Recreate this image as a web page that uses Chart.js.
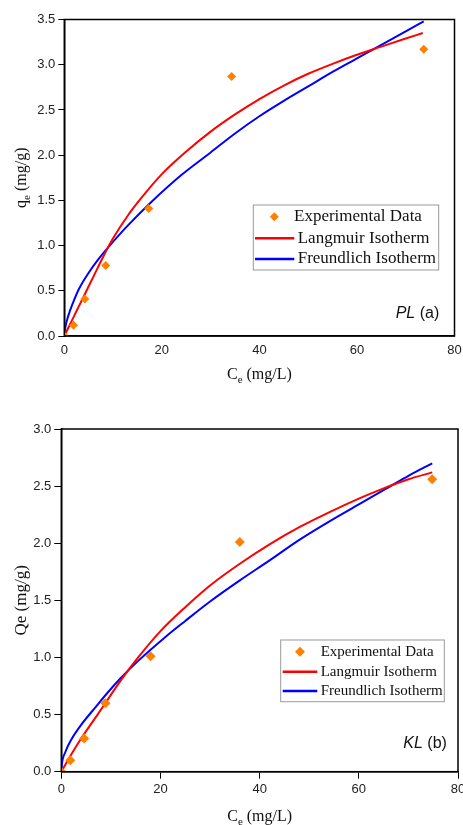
<!DOCTYPE html>
<html><head><meta charset="utf-8">
<script src="https://cdn.jsdelivr.net/npm/chart.js@4.4.1/dist/chart.umd.min.js"></script>
<style>
html,body{margin:0;padding:0;background:#fff;}
body{width:463px;height:825px;position:relative;overflow:hidden;}
canvas{position:absolute;left:0;}
#c1{top:0;} #c2{top:400px;}
</style></head><body>
<canvas id="c1" width="463" height="400"></canvas>
<canvas id="c2" width="463" height="425"></canvas>
<script>
// ---------- Data: panel (a) PL ----------
const ceExpA  = [0, 1.9, 4.2, 8.5, 17.3, 34.3, 73.7];
const qeExpA  = [0, 0.12, 0.41, 0.78, 1.41, 2.87, 3.17];
const ceLangA = [0, 1, 2, 3, 4, 6, 8, 10, 13, 16, 20, 25, 30, 35, 40, 45, 50, 55, 60, 65, 70, 73.5];
const qLangA  = [0, 0.11, 0.22, 0.33, 0.44, 0.66, 0.88, 1.08, 1.33, 1.54, 1.79, 2.04, 2.26, 2.45, 2.62, 2.77, 2.90, 3.01, 3.11, 3.20, 3.29, 3.35];
const ceFreuA = [0, 0.2, 0.8, 1.8, 3, 5, 7, 9, 13, 18, 24, 30, 35, 40, 45, 50, 55, 60, 65, 70, 73.7];
const qFreuA  = [0, 0.09, 0.22, 0.37, 0.52, 0.70, 0.85, 0.98, 1.22, 1.49, 1.78, 2.03, 2.24, 2.43, 2.60, 2.76, 2.92, 3.07, 3.22, 3.37, 3.48];
const xTicksA = [0, 20, 40, 60, 80];
const yTicksA = [0, 0.5, 1.0, 1.5, 2.0, 2.5, 3.0, 3.5];

// ---------- Data: panel (b) KL ----------
const ceExpB  = [0, 1.8, 4.6, 8.9, 18.0, 36.0, 74.8];
const qeExpB  = [0, 0.10, 0.29, 0.60, 1.01, 2.01, 2.56];
const ceLangB = [0, 2, 4, 7, 9.5, 12, 15.5, 20, 25, 30, 36, 42, 48, 54, 60, 65, 70, 74.8];
const qLangB  = [0, 0.15, 0.29, 0.48, 0.64, 0.80, 1.00, 1.23, 1.44, 1.63, 1.82, 1.99, 2.14, 2.27, 2.39, 2.48, 2.56, 2.62];
const ceFreuB = [0, 0.1, 0.8, 2, 4, 7, 9.5, 12, 15.5, 21, 25, 30, 36, 42, 48, 54, 60, 66, 70, 74.8];
const qFreuB  = [0, 0.06, 0.17, 0.28, 0.41, 0.57, 0.70, 0.82, 0.97, 1.18, 1.32, 1.49, 1.675, 1.85, 2.03, 2.19, 2.34, 2.49, 2.59, 2.70];
const xTicksB = [0, 20, 40, 60, 80];
const yTicksB = [0, 0.5, 1.0, 1.5, 2.0, 2.5, 3.0];

const seriesNames = ['Experimental Data', 'Langmuir Isotherm', 'Freundlich Isotherm'];

const SANS = '"Liberation Sans", Arial, sans-serif';
const SERIF = '"Liberation Serif", "Times New Roman", serif';
const ORANGE = '#FF8000', RED = '#FF0000', BLUE = '#0000FF';

function pts(xs, ys) { return xs.map((x, i) => ({x: x, y: ys[i]})); }

function drawRich(ctx, parts, x, y, align) {
  let w = 0;
  parts.forEach(p => { ctx.font = p.font; w += ctx.measureText(p.t).width; });
  let cx = align === 'center' ? x - w / 2 : x;
  parts.forEach(p => {
    ctx.font = p.font;
    ctx.fillText(p.t, cx, y + (p.dy || 0));
    cx += ctx.measureText(p.t).width;
  });
}

const decorPlugin = {
  id: 'decor',
  afterDraw(chart) {
    const o = chart.options.plugins.decor;
    const ctx = chart.ctx;
    const a = chart.chartArea;
    ctx.save();
    ctx.strokeStyle = '#000';
    ctx.lineWidth = 1.5;
    ctx.strokeRect(a.left, a.top, a.right - a.left, a.bottom - a.top);
    ctx.fillStyle = '#111';
    ctx.textBaseline = 'alphabetic';
    drawRich(ctx, o.xTitle, (a.left + a.right) / 2, o.xTitleY, 'center');
    ctx.save();
    ctx.translate(o.yTitleX, (a.top + a.bottom) / 2);
    ctx.rotate(-Math.PI / 2);
    drawRich(ctx, o.yTitle, 0, 0, 'center');
    ctx.restore();
    ctx.textBaseline = 'middle';
    drawRich(ctx, o.panel, o.panelX, o.panelY, 'left');
    const L = o.legend;
    ctx.strokeStyle = '#999';
    ctx.lineWidth = 1;
    ctx.strokeRect(L.x0, L.y0, L.x1 - L.x0, L.y1 - L.y0);
    ctx.font = L.fontSize + 'px ' + SERIF;
    ctx.textBaseline = 'middle';
    ctx.fillStyle = '#111';
    const ds = chart.data.datasets;
    ds.forEach((d, i) => {
      const y = L.rows[i];
      if (i === 0) {
        ctx.fillStyle = d.backgroundColor;
        const r = L.mr;
        ctx.beginPath();
        ctx.moveTo(L.mx - r, y); ctx.lineTo(L.mx, y - r); ctx.lineTo(L.mx + r, y); ctx.lineTo(L.mx, y + r);
        ctx.closePath(); ctx.fill();
        ctx.fillStyle = '#111';
        ctx.fillText(d.label, L.tx0, y);
      } else {
        ctx.strokeStyle = d.borderColor;
        ctx.lineWidth = 2.5;
        ctx.beginPath(); ctx.moveTo(L.lx0, y); ctx.lineTo(L.lx1, y); ctx.stroke();
        ctx.fillStyle = '#111';
        ctx.fillText(d.label, L.tx, y);
      }
    });
    ctx.restore();
  }
};

function makeChart(id, c) {
  return new Chart(document.getElementById(id), {
    type: 'scatter',
    data: {
      datasets: [
        { label: seriesNames[0], data: pts(c.ceExp, c.qExp), pointStyle: 'rectRot', pointRadius: c.pr,
          backgroundColor: ORANGE, borderColor: ORANGE, borderWidth: 0, showLine: false, clip: 0 },
        { label: seriesNames[1], data: pts(c.ceL, c.qL), showLine: true, pointRadius: 0, borderColor: RED,
          backgroundColor: RED, borderWidth: 2, cubicInterpolationMode: 'monotone', clip: 0 },
        { label: seriesNames[2], data: pts(c.ceF, c.qF), showLine: true, pointRadius: 0, borderColor: BLUE,
          backgroundColor: BLUE, borderWidth: 2, cubicInterpolationMode: 'monotone', clip: 0 }
      ]
    },
    options: {
      responsive: false, animation: false, devicePixelRatio: 1,
      layout: { padding: { left: 0, top: c.padTop, right: c.padRight, bottom: 0 } },
      plugins: { legend: { display: false }, tooltip: { enabled: false }, decor: c.decor },
      scales: {
        x: {
          type: 'linear', min: 0, max: 80,
          afterBuildTicks: s => { s.ticks = c.xTicks.map(v => ({value: v})); },
          ticks: { font: { family: SANS, size: 13 }, color: '#222', padding: c.xPad, maxRotation: 0, autoSkip: false,
                   callback: v => String(v) },
          grid: { display: true, drawOnChartArea: false, drawTicks: true, tickLength: c.xTL, color: '#000', tickColor: c.xTickColor, tickWidth: 1 },
          border: { display: true, color: '#000', width: 1.5 },
          afterFit: s => { s.height = c.xH; s.paddingLeft = 0; s.paddingRight = 0; }
        },
        y: {
          type: 'linear', min: 0, max: c.yMax,
          afterBuildTicks: s => { s.ticks = c.yTicks.map(v => ({value: v})); },
          ticks: { font: { family: SANS, size: 13 }, color: '#222', padding: c.yPad, autoSkip: false,
                   callback: v => Number(v).toFixed(1) },
          grid: { display: true, drawOnChartArea: false, drawTicks: true, tickLength: c.yTL, color: '#000', tickColor: '#000', tickWidth: 1 },
          border: { display: true, color: '#000', width: 1.5 },
          afterFit: s => { s.width = c.yW; s.paddingTop = 0; s.paddingBottom = 0; }
        }
      }
    },
    plugins: [decorPlugin]
  });
}

makeChart('c1', {
  ceExp: ceExpA, qExp: qeExpA, ceL: ceLangA, qL: qLangA, ceF: ceFreuA, qF: qFreuA,
  xTicks: xTicksA, yTicks: yTicksA, yMax: 3.5, pr: 4.5,
  padTop: 19.5, padRight: 8.5, xH: 64, yW: 64.3,
  xPad: 4, xTL: 3, xTickColor: 'rgba(0,0,0,0)', yPad: 3, yTL: 6,
  decor: {
    xTitle: [{t: 'C', font: '16px ' + SERIF}, {t: 'e', font: '11px ' + SERIF, dy: 4}, {t: ' (mg/L)', font: '16px ' + SERIF}],
    xTitleY: 378.5,
    yTitle: [{t: 'q', font: '16px ' + SERIF}, {t: 'e', font: '11px ' + SERIF, dy: 4}, {t: ' (mg/g)', font: '16px ' + SERIF}],
    yTitleX: 26,
    panel: [{t: 'PL', font: 'italic 16px ' + SANS}, {t: ' (a)', font: '16px ' + SANS}],
    panelX: 395.7, panelY: 313.5,
    legend: { x0: 253.3, y0: 205, x1: 438.7, y1: 270, rows: [216.7, 238.3, 259], fontSize: 17,
              lx0: 255, lx1: 294.3, mx: 274.3, mr: 4.5, tx: 297.7, tx0: 294 }
  }
});

makeChart('c2', {
  ceExp: ceExpB, qExp: qeExpB, ceL: ceLangB, qL: qLangB, ceF: ceFreuB, qF: qFreuB,
  xTicks: xTicksB, yTicks: yTicksB, yMax: 3.0, pr: 5,
  padTop: 29, padRight: 3.5, xH: 53.3, yW: 61.3,
  xPad: 3, xTL: 7, xTickColor: '#000', yPad: 3, yTL: 7,
  decor: {
    xTitle: [{t: 'C', font: '16px ' + SERIF}, {t: 'e', font: '11px ' + SERIF, dy: 4}, {t: ' (mg/L)', font: '16px ' + SERIF}],
    xTitleY: 420.5,
    yTitle: [{t: 'Qe (mg/g)', font: '17px ' + SERIF}],
    yTitleX: 26,
    panel: [{t: 'KL', font: 'italic 16px ' + SANS}, {t: ' (b)', font: '16px ' + SANS}],
    panelX: 403.3, panelY: 343.3,
    legend: { x0: 280.7, y0: 240, x1: 444.3, y1: 301.7, rows: [251.7, 271.7, 291], fontSize: 15,
              lx0: 282.7, lx1: 317.3, mx: 300, mr: 5, tx: 320.7, tx0: 320.7 }
  }
});
</script>
</body></html>
